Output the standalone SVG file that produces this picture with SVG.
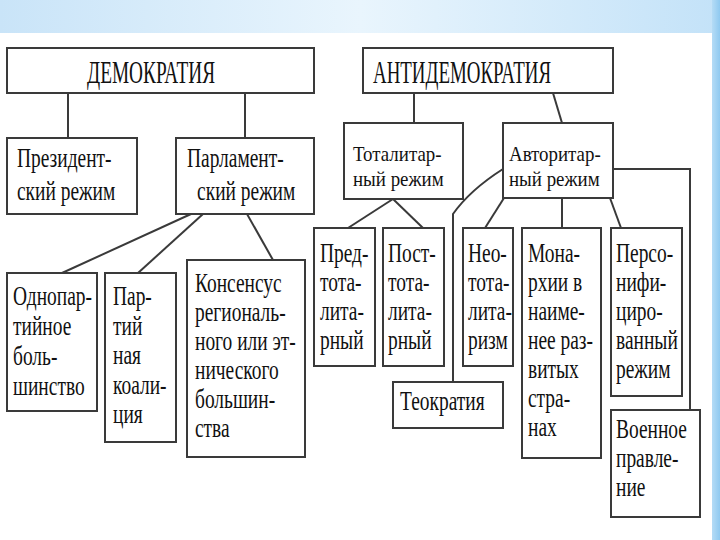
<svg xmlns="http://www.w3.org/2000/svg" width="720" height="540" viewBox="0 0 720 540">
  <defs>
    <linearGradient id="topbg" x1="0" y1="0" x2="1" y2="0">
      <stop offset="0" stop-color="#c9e4f8"/>
      <stop offset="0.5" stop-color="#e9f5fd"/>
      <stop offset="1" stop-color="#c3e2f8"/>
    </linearGradient>
    <linearGradient id="sidebg" x1="0" y1="0" x2="1" y2="0">
      <stop offset="0" stop-color="#b5dcf6"/>
      <stop offset="1" stop-color="#8fc9f0"/>
    </linearGradient>
    <style>
      .box { fill: #ffffff; stroke: #3a3a3a; stroke-width: 2; }
      .ln { fill: none; stroke: #3a3a3a; stroke-width: 2; }
      .t { font-family: "Liberation Serif", "DejaVu Serif", serif; font-size: 27px; fill: #111111; }
      .s { font-family: "Liberation Serif", "DejaVu Serif", serif; font-size: 21px; fill: #111111; }
      .h { font-family: "Liberation Serif", "DejaVu Serif", serif; font-size: 31px; fill: #111111; }
    </style>
  </defs>

  <rect x="0" y="0" width="720" height="540" fill="#ffffff"/>
  <rect x="0" y="0" width="720" height="33" fill="url(#topbg)"/>
  <rect x="712" y="0" width="8" height="540" fill="url(#sidebg)"/>

  <g id="connectors">
    <line class="ln" x1="68" y1="93" x2="68" y2="138"/>
    <line class="ln" x1="245" y1="93" x2="245" y2="138"/>
    <line class="ln" x1="414" y1="93" x2="414" y2="123"/>
    <line class="ln" x1="553" y1="93" x2="562" y2="123"/>
    <line class="ln" x1="191" y1="214" x2="62" y2="273"/>
    <line class="ln" x1="203" y1="214" x2="138" y2="273"/>
    <line class="ln" x1="247" y1="214" x2="273" y2="260"/>
    <line class="ln" x1="393" y1="199" x2="348" y2="228"/>
    <line class="ln" x1="393" y1="199" x2="423" y2="228"/>
    <path class="ln" d="M503,169 Q470,190 453,214 L453,382"/>
    <line class="ln" x1="504" y1="198" x2="485" y2="228"/>
    <line class="ln" x1="562" y1="198" x2="562" y2="228"/>
    <line class="ln" x1="610" y1="198" x2="621" y2="228"/>
    <path class="ln" d="M612,169 H690 V410"/>
  </g>

  <g id="demokratiya">
    <rect class="box" x="7" y="48" width="307" height="45"/>
    <text class="h" x="87" y="83" textLength="128" lengthAdjust="spacingAndGlyphs">ДЕМОКРАТИЯ</text>
  </g>
  <g id="antidemokratiya">
    <rect class="box" x="363" y="48" width="250" height="45"/>
    <text class="h" x="373" y="83" textLength="178" lengthAdjust="spacingAndGlyphs">АНТИДЕМОКРАТИЯ</text>
  </g>

  <g id="prezident">
    <rect class="box" x="7" y="138" width="130" height="76"/>
    <text class="t" transform="translate(17,167) scale(0.72 1)"><tspan x="0" y="0">Президент-</tspan><tspan x="0" y="33">ский режим</tspan></text>
  </g>
  <g id="parlament">
    <rect class="box" x="176" y="138" width="138" height="76"/>
    <text class="t" transform="translate(187,167) scale(0.72 1)"><tspan x="0" y="0">Парламент-</tspan><tspan x="14" y="33">ский режим</tspan></text>
  </g>
  <g id="totalitar">
    <rect class="box" x="344" y="123" width="119" height="76"/>
    <text class="s" transform="translate(353,161) scale(0.9 1)"><tspan x="0" y="0">Тоталитар-</tspan><tspan x="0" y="25">ный режим</tspan></text>
  </g>
  <g id="avtoritar">
    <rect class="box" x="503" y="123" width="110" height="75"/>
    <text class="s" transform="translate(509,161) scale(0.9 1)"><tspan x="0" y="0">Авторитар-</tspan><tspan x="0" y="25">ный режим</tspan></text>
  </g>

  <g id="odnopart">
    <rect class="box" x="7" y="273" width="90" height="138"/>
    <text class="t" transform="translate(13,305) scale(0.72 1)"><tspan x="0" y="0">Однопар-</tspan><tspan x="0" y="30">тийное</tspan><tspan x="0" y="60">боль-</tspan><tspan x="0" y="90">шинство</tspan></text>
  </g>
  <g id="partkoal">
    <rect class="box" x="105" y="273" width="71" height="169"/>
    <text class="t" transform="translate(113,305) scale(0.72 1)"><tspan x="0" y="0">Пар-</tspan><tspan x="0" y="30">тий</tspan><tspan x="0" y="59">ная</tspan><tspan x="0" y="89">коали-</tspan><tspan x="0" y="118">ция</tspan></text>
  </g>
  <g id="konsensus">
    <rect class="box" x="187" y="260" width="118" height="197"/>
    <text class="t" transform="translate(195,292) scale(0.72 1)"><tspan x="0" y="0">Консенсус</tspan><tspan x="0" y="29">региональ-</tspan><tspan x="0" y="58">ного или эт-</tspan><tspan x="0" y="87">нического</tspan><tspan x="0" y="116">большин-</tspan><tspan x="0" y="145">ства</tspan></text>
  </g>

  <g id="predtotal">
    <rect class="box" x="314" y="228" width="61" height="138"/>
    <text class="t" transform="translate(320,262) scale(0.72 1)"><tspan x="0" y="0">Пред-</tspan><tspan x="0" y="29">тота-</tspan><tspan x="0" y="58">лита-</tspan><tspan x="0" y="87">рный</tspan></text>
  </g>
  <g id="posttotal">
    <rect class="box" x="383" y="228" width="61" height="138"/>
    <text class="t" transform="translate(388,262) scale(0.72 1)"><tspan x="0" y="0">Пост-</tspan><tspan x="0" y="29">тота-</tspan><tspan x="0" y="58">лита-</tspan><tspan x="0" y="87">рный</tspan></text>
  </g>
  <g id="neototal">
    <rect class="box" x="463" y="228" width="50" height="138"/>
    <text class="t" transform="translate(468,262) scale(0.72 1)"><tspan x="0" y="0">Нео-</tspan><tspan x="0" y="29">тота-</tspan><tspan x="0" y="58">лита-</tspan><tspan x="0" y="87">ризм</tspan></text>
  </g>
  <g id="monarkhii">
    <rect class="box" x="522" y="228" width="79" height="230"/>
    <text class="t" transform="translate(528,262) scale(0.72 1)"><tspan x="0" y="0">Мона-</tspan><tspan x="0" y="29">рхии в</tspan><tspan x="0" y="58">наиме-</tspan><tspan x="0" y="87">нее раз-</tspan><tspan x="0" y="116">витых</tspan><tspan x="0" y="145">стра-</tspan><tspan x="0" y="174">нах</tspan></text>
  </g>
  <g id="personif">
    <rect class="box" x="611" y="228" width="71" height="168"/>
    <text class="t" transform="translate(616,262) scale(0.72 1)"><tspan x="0" y="0">Персо-</tspan><tspan x="0" y="29">нифи-</tspan><tspan x="0" y="58">циро-</tspan><tspan x="0" y="87">ванный</tspan><tspan x="0" y="116">режим</tspan></text>
  </g>
  <g id="teokratiya">
    <rect class="box" x="393" y="382" width="110" height="46"/>
    <text class="t" transform="translate(400,410) scale(0.72 1)">Теократия</text>
  </g>
  <g id="voennoe">
    <rect class="box" x="611" y="410" width="89" height="107"/>
    <text class="t" transform="translate(616,438) scale(0.72 1)"><tspan x="0" y="0">Военное</tspan><tspan x="0" y="29">правле-</tspan><tspan x="0" y="58">ние</tspan></text>
  </g>
</svg>
